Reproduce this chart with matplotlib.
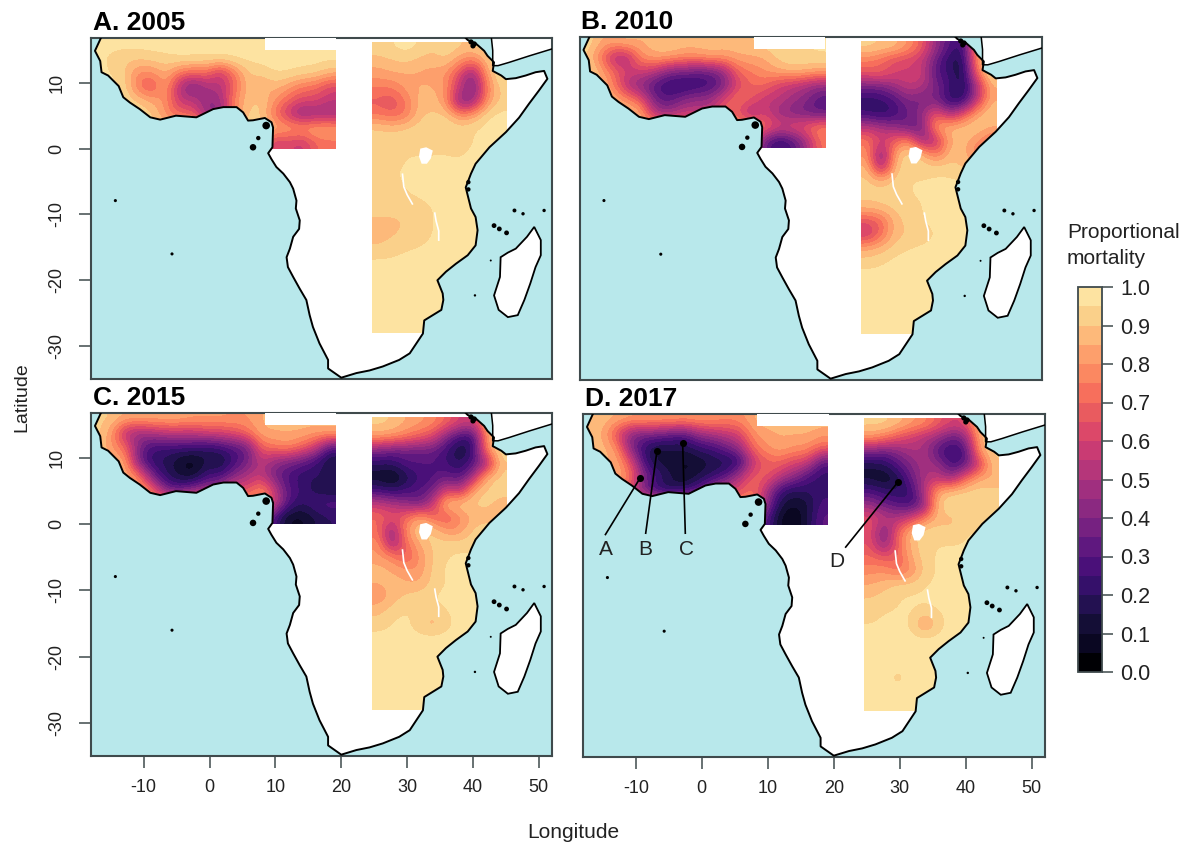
import numpy as np
import matplotlib
matplotlib.use("Agg")
import matplotlib.pyplot as plt
from matplotlib.colors import ListedColormap, BoundaryNorm
from matplotlib.patches import Polygon, Rectangle
from matplotlib.cm import ScalarMappable

plt.rcParams['font.family'] = ['Liberation Sans', 'DejaVu Sans']
plt.rcParams['axes.unicode_minus'] = False

W, H = 1196, 843
OCEAN = '#B8E8EB'
SPINE = '#3F4A4C'

panel_titles = ['A. 2005', 'B. 2010', 'C. 2015', 'D. 2017']
lon_ticks = [-10, 0, 10, 20, 30, 40, 50]
lat_ticks = [-30, -20, -10, 0, 10]
bar_ticks = [0.0, 0.1, 0.2, 0.3, 0.4, 0.5, 0.6, 0.7, 0.8, 0.9, 1.0]

band_colors = ['#000004', '#0A0722', '#140E36', '#231151', '#35106A', '#4A1079', '#5F187F',
               '#762181', '#8B2981', '#A02F7F', '#B5367A', '#C93B73', '#DC4869', '#E95B5F',
               '#F76F5C', '#FB8861', '#FD9F6C', '#FDB97A', '#FAD08A', '#FDE3A1']

africa_lon = [-16.5, -17.4, -16.6, -16.4, -15.4, -14.6, -13.8, -13.1, -12.1, -10.6, -9.0, -7.5, -5.1, -2.0, 0.55,
              2.1, 4.1, 5.1, 5.85, 6.6, 8.4, 9.4, 9.65, 9.55, 8.9, 9.4, 10.15, 11.2, 12.2, 12.7, 13.2,
              13.1, 13.7, 13.6, 12.7, 12.2, 11.7, 11.9, 12.7, 13.7, 14.7, 15.2, 15.7, 16.7, 18.0, 18.0,
              20.0, 22.3, 24.3, 26.3, 28.8, 30.4, 31.4, 32.4, 32.6, 33.9, 35.2, 35.5, 35.4, 34.6, 35.9,
              37.4, 39.2, 40.4, 40.7, 40.4, 39.7, 39.4, 38.9, 39.7, 40.4, 42.5, 45.0, 47.0,
              48.5, 50.0, 51.3, 50.8, 49.5, 48.0, 46.5, 45.0, 44.3, 43.0, 43.2, 42.2, 41.7, 40.5, 39.2, 38.9]
africa_lat = [16.8, 14.85, 13.3, 11.6, 11.1, 10.3, 9.5, 7.8, 7.0, 6.0, 4.75, 4.4, 5.0, 4.75, 6.0,
              6.3, 6.3, 5.5, 4.25, 4.3, 4.65, 4.0, 3.2, 0.2, -0.7, -1.6, -2.8, -3.8, -5.1, -6.1, -7.9,
              -9.1, -10.9, -12.2, -13.4, -15.2, -16.5, -18.0, -19.5, -21.3, -23.0, -25.3, -27.1, -29.6, -32.1, -33.4,
              -34.8, -34.1, -33.7, -33.1, -32.1, -31.1, -29.6, -28.1, -26.1, -25.3, -24.5, -23.0, -22.0, -20.0, -18.7,
              -17.5, -16.2, -14.7, -12.4, -10.4, -9.1, -7.9, -5.9, -3.8, -2.3, 0.2, 2.5, 4.7,
              6.8, 8.8, 10.6, 11.8, 11.6, 11.1, 10.7, 10.55, 11.1, 11.8, 13.1, 14.1, 14.85, 15.9, 16.5, 16.8]

arabia_lon = [42.8, 43.0, 43.0, 43.8, 45.5, 48.6, 52.2, 52.2]
arabia_lat = [16.8, 14.9, 12.6, 12.6, 13.1, 14.1, 15.2, 16.8]

madagascar_lon = [49.3, 50.3, 50.3, 49.5, 48.7, 47.8, 46.8, 45.3, 43.9, 43.2, 44.1, 44.2, 45.3, 46.5, 48.2]
madagascar_lat = [-11.9, -13.9, -16.2, -18.0, -20.5, -23.0, -25.3, -25.6, -24.5, -22.3, -19.5, -16.5, -15.8, -15.2, -13.4]

island_lon = [-14.3, -5.7, 6.6, 7.4, 8.6, 46.3, 47.6, 50.8, 43.2, 44.0, 45.1, 42.7, 40.3, 40.2, 40.0, 39.7, 39.3, 39.3]
island_lat = [-7.9, -16.0, 0.2, 1.6, 3.5, -9.4, -9.9, -9.4, -11.7, -12.2, -12.8, -17.0, -22.3, 15.9, 15.6, 16.2, -5.1, -6.2]
island_size = [5, 5, 22, 10, 30, 8, 6, 6, 12, 12, 12, 2, 3, 14, 14, 14, 10, 10]

victoria_lon = [32.0, 32.9, 33.9, 33.6, 33.0, 32.2, 31.8]
victoria_lat = [0.0, 0.2, -0.3, -1.5, -2.3, -2.3, -1.2]
tanganyika_lon = [29.3, 29.5, 30.0, 30.8]
tanganyika_lat = [-3.9, -5.8, -7.0, -8.4]
malawi_lon = [34.2, 34.4, 34.8, 34.8]
malawi_lat = [-9.8, -11.0, -12.5, -13.9]

# Proportional mortality in %: coarse blocks, rows from north to south
west_2005 = [
 [97,97,97,97,97,97,97,97,97,97,97,97,97,97,97,97,97,97],
 [97,93,91,91,93,94,96,96,96,96,97,97,97,97,97,97,97,97],
 [97,95,91,78,78,87,74,70,72,55,74,90,92,96,96,94,93,87],
 [97,97,93,72,64,84,50,35,50,52,68,90,82,88,82,74,72,62],
 [97,97,95,90,84,80,55,55,45,45,78,88,92,80,70,62,62,55],
 [97,97,95,95,92,78,70,70,40,40,75,92,92,72,55,40,46,45],
 [92,92,92,92,92,92,92,92,92,92,92,92,92,88,84,84,86,86],
 [85,85,85,85,85,85,85,85,85,85,85,85,85,55,62,55,70,72]]
east_2005 = [
 [93,95,97,95,90,95,90,90,95,97],
 [87,89,91,87,87,89,80,70,88,97],
 [82,84,84,84,82,80,60,40,82,97],
 [74,74,82,86,86,80,55,35,75,92],
 [68,64,74,87,89,80,40,45,80,92],
 [74,70,74,89,91,91,78,82,95,97],
 [91,89,91,93,94,96,93,95,97,97],
 [93,93,94,93,93,93,91,95,97,97],
 [94,94,95,95,95,95,94,97,97,97],
 [94,95,95,96,96,97,97,97,97,97],
 [94,95,95,96,96,97,97,97,97,97],
 [94,94,95,96,97,97,97,97,97,97],
 [92,92,92,93,95,97,97,97,97,97],
 [89,89,90,92,95,97,97,97,97,97],
 [88,89,91,93,95,97,97,97,97,97],
 [90,92,94,95,96,97,97,97,97,97],
 [96,96,97,97,97,97,97,97,97,97],
 [97,97,97,97,97,97,97,97,97,97],
 [97,97,97,97,97,97,97,97,97,97],
 [97,97,97,97,97,97,97,97,97,97],
 [97,97,97,97,97,97,97,97,97,97],
 [97,97,97,97,97,97,97,97,97,97]]

west_2010 = [
 [95,85,85,88,85,88,90,88,88,88,88,88,90,92,96,96,96,96],
 [90,75,48,50,80,85,85,80,80,85,82,85,85,85,92,93,93,95],
 [95,85,70,60,60,55,40,40,35,35,45,70,75,80,85,90,88,85],
 [95,88,75,48,40,28,22,18,22,25,35,60,70,72,60,55,50,45],
 [95,92,85,78,65,35,30,40,45,45,62,75,68,55,55,48,42,30],
 [95,90,88,90,85,50,45,55,55,55,70,65,45,60,45,40,35,32],
 [85,85,85,85,85,85,85,85,85,85,85,85,85,75,62,65,70,78],
 [60,60,60,60,60,60,60,60,60,60,60,60,60,35,20,28,45,72]]
east_2010 = [
 [92,90,88,80,68,45,30,20,85,97],
 [75,70,62,60,55,35,18,15,80,97],
 [65,68,60,60,60,30,25,12,70,95],
 [35,35,45,55,50,40,25,15,45,85],
 [20,22,28,40,35,40,20,22,55,85],
 [25,20,25,35,45,70,50,65,85,92],
 [55,50,45,35,35,85,88,90,92,85],
 [75,60,70,80,45,50,85,88,80,70],
 [80,35,85,95,90,72,88,90,72,80],
 [88,45,88,95,93,93,93,88,92,92],
 [92,88,93,95,95,96,96,96,97,97],
 [92,92,93,95,96,97,97,97,97,97],
 [88,90,92,92,95,97,97,97,97,97],
 [65,70,88,92,95,97,97,97,97,97],
 [55,72,88,90,92,95,97,97,97,97],
 [84,87,92,95,96,97,97,97,97,97],
 [92,94,97,97,97,97,97,97,97,97],
 [97,97,97,97,97,97,97,97,97,97],
 [97,97,97,97,97,97,97,97,97,97],
 [97,97,97,97,97,97,97,97,97,97],
 [97,97,97,97,97,97,97,97,97,97],
 [97,97,97,97,97,97,97,97,97,97]]

west_2015 = [
 [92,90,85,85,85,85,85,82,82,82,80,80,85,88,88,88,88,88],
 [92,82,50,45,50,55,55,55,60,60,65,72,85,85,85,85,82,85],
 [92,80,72,40,25,25,25,25,20,25,30,35,70,75,80,70,60,30],
 [92,85,85,35,20,18,10,5,15,10,25,35,55,45,40,35,25,12],
 [90,90,85,75,35,20,12,8,25,25,40,50,55,35,28,20,22,18],
 [90,88,85,85,70,35,30,40,45,50,65,60,80,55,30,25,15,12],
 [85,85,85,85,85,85,85,85,85,85,85,85,85,60,30,20,28,30],
 [50,50,50,50,50,50,50,50,50,50,50,50,50,25,8,8,15,20]]
east_2015 = [
 [92,90,85,82,78,70,60,55,85,97],
 [82,80,75,68,62,40,25,22,82,97],
 [40,35,35,35,35,25,12,22,78,95],
 [20,20,30,30,30,25,18,30,45,90],
 [10,5,15,25,28,35,28,50,88,92],
 [25,20,25,30,35,62,50,85,92,92],
 [55,50,45,35,55,92,92,92,92,88],
 [72,65,70,85,70,65,78,85,88,85],
 [72,40,80,92,92,80,80,92,93,93],
 [80,42,72,85,92,93,93,93,97,97],
 [82,78,65,80,90,95,96,96,97,97],
 [88,85,82,80,92,96,97,97,97,97],
 [85,88,85,85,92,95,97,97,97,97],
 [80,86,92,93,95,97,97,97,97,97],
 [88,93,95,95,93,95,97,97,97,97],
 [92,95,97,91,85,93,97,97,97,97],
 [97,97,97,97,97,97,97,97,97,97],
 [97,97,97,97,97,97,97,97,97,97],
 [97,97,97,97,97,97,97,97,97,97],
 [97,97,97,97,97,97,97,97,97,97],
 [97,97,97,97,97,97,97,97,97,97],
 [97,97,97,97,97,97,97,97,97,97]]

west_2017 = [
 [90,88,85,82,82,82,82,80,82,80,78,78,85,90,90,90,90,88],
 [88,85,62,40,38,38,32,30,45,50,55,60,80,82,85,85,85,82],
 [88,88,80,40,22,12,15,15,22,25,35,45,72,80,85,80,80,70],
 [90,85,85,65,25,12,12,8,10,15,15,20,55,68,70,62,60,30],
 [92,90,85,75,40,25,15,8,15,20,30,50,68,70,55,45,28,22],
 [90,88,85,60,35,18,15,20,30,50,60,62,75,50,25,18,22,22],
 [80,80,80,80,80,80,80,80,80,80,80,80,80,45,15,10,12,28],
 [45,45,45,45,45,45,45,45,45,45,45,45,45,30,8,3,15,32]]
east_2017 = [
 [92,92,88,82,78,68,60,62,88,95],
 [80,75,65,58,50,45,32,40,85,92],
 [40,35,42,50,50,28,22,25,82,92],
 [15,18,30,40,50,45,25,32,55,90],
 [12,8,15,35,50,55,45,70,85,85],
 [28,22,20,22,55,85,90,92,93,92],
 [45,35,30,25,40,92,95,95,95,92],
 [65,55,50,60,75,88,88,92,92,92],
 [65,35,70,88,95,93,90,95,95,97],
 [65,40,70,88,93,95,95,95,97,97],
 [72,68,68,85,93,96,97,97,97,97],
 [78,80,72,78,92,96,97,97,97,97],
 [85,88,92,92,95,96,97,97,97,97],
 [90,92,95,96,96,97,97,97,97,97],
 [93,95,95,96,93,95,97,97,97,97],
 [95,96,97,95,78,93,97,97,97,97],
 [97,97,97,97,97,97,97,97,97,97],
 [97,97,97,97,97,97,97,97,97,97],
 [97,97,97,97,97,97,97,97,97,97],
 [97,97,92,97,97,97,97,97,97,97],
 [97,97,97,97,97,97,97,97,97,97],
 [97,97,97,97,97,97,97,97,97,97]]

west_grids = [west_2005, west_2010, west_2015, west_2017]
east_grids = [east_2005, east_2010, east_2015, east_2017]

site_names = ['A', 'B', 'C', 'D']
site_lon = [-9.3, -6.8, -2.9, 29.7]
site_lat = [7.2, 11.2, 12.4, 6.5]
leader_lon = [-14.6, -8.5, -2.5, 21.8]
leader_lat = [-1.4, -1.2, -1.2, -3.3]
label_lon = [-14.6, -8.5, -2.3, 20.4]
label_lat = [-3.6, -3.6, -3.6, -5.5]

panel_px = [(91, 552, 38, 379), (579.5, 1042, 37, 380), (91, 552, 413, 756), (583, 1045, 414, 757)]
XLIM = (-18, 52)
YLIM = (-35, 16.8)


def px_axes(fig, left, right, top, bottom):
    return fig.add_axes([left / W, 1 - bottom / H, (right - left) / W, (bottom - top) / H])


fig = plt.figure(figsize=(W / 100, H / 100), dpi=100)
cmap = ListedColormap(band_colors)
norm = BoundaryNorm(np.linspace(0, 1, 21), 20)

for i, box in enumerate(panel_px):
    ax = px_axes(fig, *box)
    ax.set_facecolor(OCEAN)
    land = Polygon(np.column_stack([africa_lon, africa_lat]), closed=True, fc='white', ec='none', zorder=1)
    ax.add_patch(land)
    ax.add_patch(Polygon(np.column_stack([arabia_lon, arabia_lat]), closed=True, fc='white', ec='none', zorder=1))
    ax.add_patch(Polygon(np.column_stack([madagascar_lon, madagascar_lat]), closed=True, fc='white', ec='none', zorder=1))
    for grid, extent in [(west_grids[i], (-18, 19.1, 0, 16.8)), (east_grids[i], (24.65, 45.1, -28, 16.1))]:
        im = ax.imshow(np.array(grid) / 100, extent=extent, cmap=cmap, vmin=0, vmax=1, origin='upper',
                       interpolation='bicubic', interpolation_stage='data', aspect='auto', zorder=2)
        im.set_clip_path(land)
    ax.add_patch(Rectangle((8.4, 15), 10.8, 1.9, fc='white', ec='none', zorder=3))
    ax.fill(victoria_lon, victoria_lat, color='white', lw=0, zorder=4)
    ax.plot(tanganyika_lon, tanganyika_lat, color='white', lw=1.2, zorder=4)
    ax.plot(malawi_lon, malawi_lat, color='white', lw=1.2, zorder=4)
    ax.plot(africa_lon, africa_lat, color='black', lw=1.4, zorder=5)
    ax.plot(arabia_lon, arabia_lat, color='black', lw=1.1, zorder=5)
    ax.add_patch(Polygon(np.column_stack([madagascar_lon, madagascar_lat]), closed=True, fc='none', ec='black', lw=1.3, zorder=5))
    ax.scatter(island_lon, island_lat, s=island_size, c='black', lw=0, zorder=5)
    ax.set_xlim(*XLIM)
    ax.set_ylim(*YLIM)
    ax.set_xticks(lon_ticks)
    ax.set_yticks(lat_ticks)
    ax.tick_params(axis='x', length=8.6, width=1.1, color=SPINE, labelsize=13, labelcolor='#222222', pad=8,
                   labelbottom=i >= 2, bottom=i >= 2)
    ax.tick_params(axis='y', length=8.6, width=1.1, color=SPINE, labelsize=13, labelcolor='#222222', pad=10,
                   labelleft=i in (0, 2), left=i in (0, 2))
    for lab in ax.get_yticklabels():
        lab.set_rotation(90)
        lab.set_va('center')
    for s in ax.spines.values():
        s.set_color(SPINE)
        s.set_linewidth(1.5)
    ax.set_title(panel_titles[i], loc='left', fontsize=19, fontweight='bold', pad=6, x=0.004)
    if i == 3:
        for n, a, b, c, d, e, f in zip(site_names, site_lon, site_lat, leader_lon, leader_lat, label_lon, label_lat):
            ax.plot([a, c], [b, d], color='black', lw=1.2, zorder=6)
            ax.scatter([a], [b], s=26, c='black', zorder=7, lw=0)
            ax.text(e, f, n, ha='center', va='center', fontsize=15, color='#222222', zorder=7)

fig.text(573 / W, 1 - 832 / H, 'Longitude', ha='center', va='center', fontsize=15, color='#222222')
fig.text(22 / W, 1 - 397 / H, 'Latitude', ha='center', va='center', rotation=90, fontsize=14, color='#222222')
fig.text(1067 / W, 1 - 232 / H, 'Proportional', ha='left', va='center', fontsize=15, color='#222222')
fig.text(1067 / W, 1 - 258 / H, 'mortality', ha='left', va='center', fontsize=15, color='#222222')

cax = px_axes(fig, 1078, 1102, 287, 672)
cb = fig.colorbar(ScalarMappable(norm=norm, cmap=cmap), cax=cax, ticks=bar_ticks, spacing='proportional', drawedges=False)
cb.ax.set_yticklabels([f'{t:.1f}' for t in bar_ticks])
cb.ax.minorticks_off()
cb.ax.tick_params(length=8, width=1.1, color=SPINE, labelsize=15.5, labelcolor='#222222', pad=5)
cb.outline.set_edgecolor(SPINE)
cb.outline.set_linewidth(1.3)

fig.savefig('out.png', dpi=100)
